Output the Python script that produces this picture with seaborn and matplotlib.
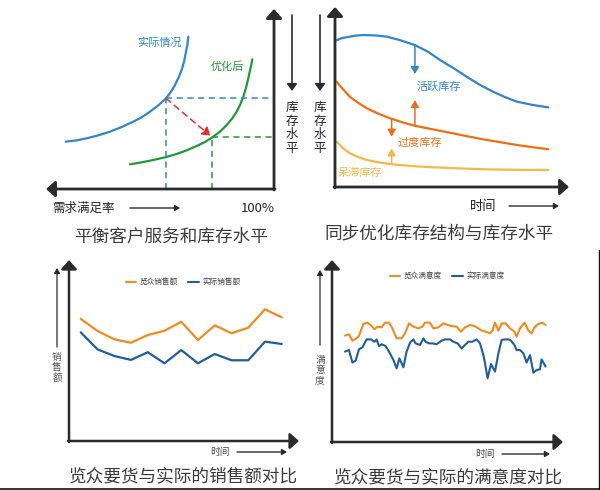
import matplotlib
matplotlib.use("Agg")
import matplotlib.pyplot as plt
import seaborn as sns
import numpy as np

sns.set_theme(style="white")
plt.rcParams['font.family'] = ['Noto Sans CJK SC', 'DejaVu Sans']

W, H = 600, 490

# ---------------- Panel 1: 平衡客户服务和库存水平 ----------------
p1_actual_x = [8.22, 13.07, 17.48, 22.61, 27.75, 32.89, 38.03, 41.70, 45.37, 49.05, 52.42,
               54.63, 56.39, 58.00, 59.32, 60.35, 61.09, 61.82, 62.26]
p1_actual_y = [26.44, 27.19, 28.31, 29.98, 32.03, 34.64, 37.61, 40.04, 43.20, 46.74, 50.65,
               54.37, 58.10, 62.38, 66.48, 71.13, 75.79, 80.45, 85.10]
p1_opt_x = [36.56, 41.70, 46.84, 51.98, 57.12, 61.53, 65.93, 69.60, 72.83, 76.21, 79.15,
            81.64, 83.55, 85.17, 86.49, 87.67, 88.69, 89.57, 90.45]
p1_opt_y = [13.78, 14.90, 16.20, 17.69, 19.55, 21.60, 24.02, 26.26, 28.87, 32.03, 35.75,
            39.48, 43.20, 47.30, 51.58, 56.61, 61.83, 67.04, 72.44]
p1_point_actual = (52.42, 50.65)
p1_point_opt = (72.83, 28.87)

# ---------------- Panel 2: 同步优化库存结构与库存水平 ----------------
p2_t = [0, 3, 6.4, 9, 12.2, 17, 22.2, 28, 34.3, 40, 45.1, 51, 56.5, 62, 67.9, 73, 78, 85, 91.5]
p2_active = [81.6, 83.2, 84.0, 84.6, 84.9, 84.7, 84.0, 82.0, 79.3, 75.5, 70.9, 66.3, 61.6,
             57.2, 53.2, 50.2, 47.7, 45.8, 44.5]
p2_t_over = [0.7, 3.5, 6.4, 10, 13.6, 18.5, 23.6, 29, 34.3, 42, 49.4, 56.5, 63.7, 71, 78, 85, 91.5]
p2_over = [58.8, 54.5, 50.4, 47.0, 44.0, 41.0, 38.4, 36.1, 34.2, 32.2, 30.3, 28.4, 26.6,
           25.0, 23.5, 22.2, 21.1]
p2_t_dead = [0.7, 3.5, 6.4, 10, 13.6, 18.5, 24.3, 33, 42.2, 53, 63.7, 77, 91.5]
p2_dead = [25.3, 21.6, 18.8, 16.7, 15.1, 13.8, 12.7, 11.7, 11.0, 10.4, 9.9, 9.6, 9.5]

# ---------------- Panel 3: 销售额 ----------------
p3_period = list(range(13))
p3_lanzhong = [68.2, 61.5, 56.8, 54.9, 59.2, 61.6, 66.6, 56.4, 64.6, 60.2, 63.3, 73.6, 69.1]
p3_actual = [60.7, 51.2, 47.5, 45.3, 49.6, 43.4, 50.8, 43.4, 48.6, 45.1, 45.1, 55.5, 54.2]

# ---------------- Panel 4: 满意度 ----------------
p4_t_lz = [0, 2, 3.7, 5.8, 7, 9.2, 11.2, 12.8, 14.7, 16.3, 18.3, 20, 22, 23.7, 25.8, 28.3,
           30, 32, 34.2, 36.7, 38.7, 40, 42.5, 44.2, 46.7, 49.2, 51.3, 53.3, 55.8, 58, 60,
           62.5, 64.7, 66.7, 68.3, 70.3, 72.5, 73.7, 75, 76.7, 78.3, 80.3, 82.5, 84.7, 85.8,
           87.5, 89.7, 91.7, 93.3, 94.7, 96.7, 98.7, 100.3]
p4_lz = [59.1, 59.8, 56.3, 57.6, 58.9, 65.6, 66.3, 65.0, 62.6, 64.1, 63.7, 66.3, 66.3, 63.1,
         57.6, 57.6, 60.4, 65.9, 64.1, 63.1, 64.1, 66.3, 66.3, 63.1, 63.7, 65.9, 65.0, 64.4,
         64.1, 61.3, 63.7, 65.0, 64.4, 63.1, 61.9, 61.3, 60.4, 61.9, 66.3, 61.9, 65.9, 65.9,
         63.1, 61.3, 58.5, 63.1, 66.3, 61.9, 60.4, 63.7, 65.6, 66.3, 65.0]
p4_t_ac = [0, 2, 3.7, 5.3, 7, 8.7, 10.8, 13, 14.7, 15.8, 17, 18.3, 20.3, 22, 24.2, 25.8, 27.2,
           29.2, 30.8, 32.5, 34.2, 35.3, 37.5, 39.2, 40.3, 42, 43.7, 45.8, 48.3, 50, 52.5, 54.2,
           56.3, 58.3, 60, 61.7, 63.7, 65.8, 67.5, 69.2, 70, 71.3, 73, 75, 76.7, 78.3, 80, 81.7,
           83, 84.7, 85.8, 87.5, 89.2, 90.8, 92.5, 94.2, 95.8, 97.5, 98.3, 100.3]
p4_ac = [50.2, 51.1, 44.1, 45.2, 51.5, 52.6, 57.0, 57.0, 55.7, 57.0, 53.3, 54.3, 53.3, 50.2,
         45.6, 40.9, 46.5, 41.5, 50.2, 55.2, 57.0, 54.8, 53.9, 57.6, 55.7, 54.8, 54.8, 54.3,
         56.3, 57.0, 57.0, 55.7, 54.8, 52.0, 53.9, 55.7, 55.7, 57.0, 54.8, 48.3, 43.7, 35.4,
         43.3, 39.1, 49.3, 56.7, 57.0, 57.0, 56.3, 53.9, 51.1, 51.1, 49.3, 44.1, 48.3, 38.5,
         40.0, 40.4, 45.9, 41.9]

# colours
BLUE1 = "#2F86CF"
GREEN1 = "#1E9A34"
RED1 = "#E8302A"
ORANGE2 = "#EE6F12"
YELLOW2 = "#F6B845"
ORANGE3 = "#F28A1C"
BLUE3 = "#1E5E9E"
AXC = "#2b2b2b"
TXT = "#222222"
TITLE = "#3a3a3a"

fig = plt.figure(figsize=(6, 4.9), dpi=100)
fig.patch.set_facecolor("white")


def box(x0, y0, x1, y1):
    return [x0 / W, 1 - y1 / H, (x1 - x0) / W, (y1 - y0) / H]


# overlay axes in pixel coordinates for decorations
ov = fig.add_axes([0, 0, 1, 1], zorder=5)
ov.set_xlim(0, W)
ov.set_ylim(H, 0)
ov.axis("off")
ov.patch.set_alpha(0)


def arrow(x0, y0, x1, y1, lw=2.0, hw=8, hl=9, color=AXC):
    ov.annotate("", xy=(x1, y1), xytext=(x0, y0),
                arrowprops=dict(arrowstyle="-|>,head_width=%.2f,head_length=%.2f" % (hw / 20, hl / 20),
                                color=color, lw=lw, shrinkA=0, shrinkB=0))


def vtext(x, y, s, size, color=TXT):
    ov.text(x, y, "\n".join(s), ha="center", va="center", fontsize=size, color=color,
            linespacing=1.05)


def title(x, y, s):
    ov.text(x, y, s, fontsize=12.7, ha="center", va="center", color=TITLE, fontweight="light")


# ---------------- Panel 1 ----------------
ax1 = fig.add_axes(box(47, 10, 274, 189))
sns.lineplot(x=p1_actual_x, y=p1_actual_y, ax=ax1, color=BLUE1, lw=1.6, sort=False)
sns.lineplot(x=p1_opt_x, y=p1_opt_y, ax=ax1, color=GREEN1, lw=1.6, sort=False)
ax1.set_xlim(0, 100)
ax1.set_ylim(0, 100)
ax1.axis("off")
ax_, ay_ = p1_point_actual
ox_, oy_ = p1_point_opt
ax1.plot([ax_, 100], [ay_, ay_], ls=(0, (4, 3)), color=BLUE1, lw=1.1)
ax1.plot([ax_, ax_], [0, ay_], ls=(0, (4, 3)), color=BLUE1, lw=1.1)
ax1.plot([ox_, 100], [oy_, oy_], ls=(0, (4, 3)), color=GREEN1, lw=1.1)
ax1.plot([ox_, ox_], [0, oy_], ls=(0, (4, 3)), color=GREEN1, lw=1.1)
ax1.annotate("", xy=(ox_ - 0.8, oy_ + 0.8), xytext=(ax_, ay_),
             arrowprops=dict(arrowstyle="-|>,head_width=0.25,head_length=0.4", color=RED1,
                             lw=1.1, ls=(0, (4, 3)), shrinkA=0, shrinkB=0))

arrow(274, 190, 274, 9)
arrow(275, 189, 46, 189)
arrow(292, 15, 292, 91, lw=1.2, hw=5, hl=7)
vtext(292, 128, "库存水平", 9)
ov.text(137, 43, "实际情况", color=BLUE1, fontsize=8, va="center", ha="left")
ov.text(211, 67, "优化后", color=GREEN1, fontsize=8, va="center", ha="left")
ov.text(52, 208, "需求满足率", fontsize=9, va="center", ha="left", color=TXT)
arrow(130, 208, 180, 208, lw=1.0, hw=3, hl=5)
ov.text(275, 208, "100%", fontsize=9.5, va="center", ha="right", color=TXT)
title(171, 237, "平衡客户服务和库存水平")

# ---------------- Panel 2 ----------------
ax2 = fig.add_axes(box(335, 8, 568, 187))
sns.lineplot(x=p2_t, y=p2_active, ax=ax2, color=BLUE1, lw=1.6, sort=False)
sns.lineplot(x=p2_t_over, y=p2_over, ax=ax2, color=ORANGE2, lw=1.6, sort=False)
sns.lineplot(x=p2_t_dead, y=p2_dead, ax=ax2, color=YELLOW2, lw=1.6, sort=False)
ax2.set_xlim(0, 100)
ax2.set_ylim(0, 100)
ax2.axis("off")


def darrow(ax, x, y0, y1, color):
    ax.annotate("", xy=(x, y1), xytext=(x, y0),
                arrowprops=dict(arrowstyle="-|>,head_width=0.2,head_length=0.35", color=color,
                                lw=1.1, shrinkA=0, shrinkB=0))


darrow(ax2, 34.3, 79.3, 63.1, BLUE1)
darrow(ax2, 34.3, 34.2, 48.6, ORANGE2)
darrow(ax2, 24.3, 38.2, 28.1, ORANGE2)
darrow(ax2, 24.3, 12.7, 21.6, YELLOW2)

arrow(335, 188, 335, 7)
arrow(334, 187, 569, 187)
arrow(320, 15, 320, 91, lw=1.2, hw=5, hl=7)
vtext(320, 128, "库存水平", 9)
ov.text(417, 87, "活跃库存", color=BLUE1, fontsize=8, va="center", ha="left")
ov.text(398, 143, "过度库存", color=ORANGE2, fontsize=8, va="center", ha="left")
ov.text(338, 173, "呆滞库存", color=YELLOW2, fontsize=8, va="center", ha="left")
ov.text(470, 206, "时间", fontsize=9.5, va="center", ha="left", color=TXT)
arrow(509, 206, 559, 206, lw=1.0, hw=3, hl=5)
title(439, 234, "同步优化库存结构与库存水平")

# ---------------- Panel 3 ----------------
ax3 = fig.add_axes(box(69, 262, 297, 441))
sns.lineplot(x=p3_period, y=p3_lanzhong, ax=ax3, color=ORANGE3, lw=1.6)
sns.lineplot(x=p3_period, y=p3_actual, ax=ax3, color=BLUE3, lw=1.6)
ax3.set_xlim(-0.70, 12.91)
ax3.set_ylim(0, 100)
ax3.axis("off")

arrow(69, 442, 69, 260, lw=1.8, hw=8, hl=9)
arrow(68, 441, 299, 441, lw=1.8, hw=8, hl=9)
arrow(57, 347, 57, 268, lw=0.9, hw=3, hl=5)
vtext(57, 367, "销售额", 7, color="#555555")
ov.plot([126, 136], [282, 282], color=ORANGE3, lw=1.5)
ov.text(139, 282, "览众销售额", fontsize=5.5, va="center", ha="left", color="#444444")
ov.plot([188, 199], [282, 282], color=BLUE3, lw=1.5)
ov.text(202, 282, "实际销售额", fontsize=5.5, va="center", ha="left", color="#444444")
ov.text(210, 452, "时间", fontsize=7, va="center", ha="left", color="#444444")
arrow(237, 452, 287, 452, lw=1.0, hw=3, hl=5)
title(183, 476, "览众要货与实际的销售额对比")

# ---------------- Panel 4 ----------------
ax4 = fig.add_axes(box(332, 262, 560, 442))
sns.lineplot(x=p4_t_lz, y=p4_lz, ax=ax4, color=ORANGE3, lw=1.5, sort=False)
sns.lineplot(x=p4_t_ac, y=p4_ac, ax=ax4, color=BLUE3, lw=1.5, sort=False)
ax4.set_xlim(-6.5, 107.5)
ax4.set_ylim(0, 100)
ax4.axis("off")

arrow(332, 443, 332, 260, lw=1.8, hw=8, hl=9)
arrow(331, 442, 563, 442, lw=1.8, hw=8, hl=9)
arrow(320, 345, 320, 270, lw=0.9, hw=3, hl=5)
vtext(320, 370, "满意度", 7, color="#555555")
ov.plot([390, 400], [276, 276], color=ORANGE3, lw=1.5)
ov.text(403, 276, "览众满意度", fontsize=5.5, va="center", ha="left", color="#444444")
ov.plot([452, 463], [276, 276], color=BLUE3, lw=1.5)
ov.text(466, 276, "实际满意度", fontsize=5.5, va="center", ha="left", color="#444444")
ov.text(475, 454, "时间", fontsize=7, va="center", ha="left", color="#444444")
arrow(502, 454, 550, 454, lw=1.0, hw=3, hl=5)
title(448, 477, "览众要货与实际的满意度对比")

# frame lines (bottom and right edge)
ov.plot([0, 600], [488.5, 488.5], color="#111111", lw=1.2)
ov.plot([598.5, 598.5], [250, 490], color="#111111", lw=1.0)

fig.savefig("out.png", dpi=100)
